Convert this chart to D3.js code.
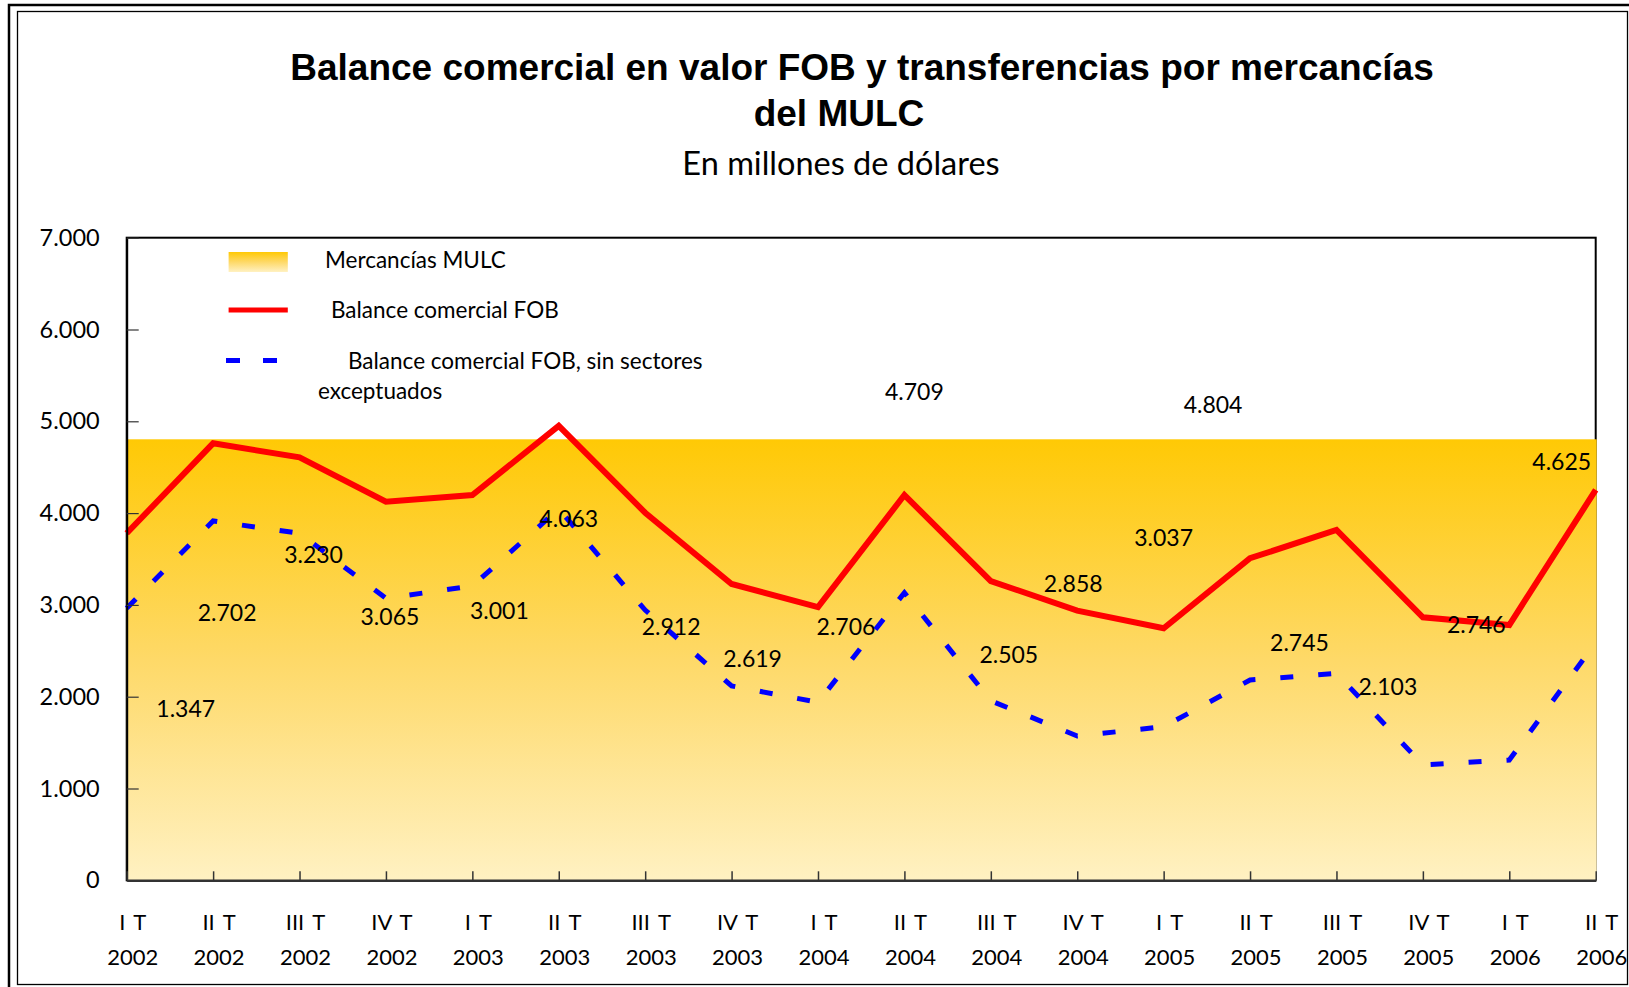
<!DOCTYPE html>
<html>
<head>
<meta charset="utf-8">
<script src="https://cdn.jsdelivr.net/npm/d3@7"></script>
<style>
  body { margin: 0; background: #fff; }
  svg { display: block; }
</style>
</head>
<body>
<svg id="chart"></svg>
<script>
// trimestres
var quarters = ["I T", "II T", "III T", "IV T", "I T", "II T", "III T", "IV T", "I T", "II T",
                "III T", "IV T", "I T", "II T", "III T", "IV T", "I T", "II T"]
var years = ["2002", "2002", "2002", "2002", "2003", "2003", "2003", "2003", "2004", "2004",
             "2004", "2004", "2005", "2005", "2005", "2005", "2006", "2006"]

// Mercancias MULC (etiquetas)
var mulc = [1347, 2702, 3230, 3065, 3001, 4063, 2912, 2619, 2706, 4709,
            2505, 2858, 3037, 4804, 2745, 2103, 2746, 4625]
// Balance comercial FOB
var fob = [3780, 4760, 4608, 4124, 4197, 4950, 4004, 3228, 2975, 4197,
           3260, 2937, 2745, 3508, 3816, 2865, 2781, 4252]
// Balance comercial FOB, sin sectores exceptuados
var fobSinExc = [2963, 3914, 3780, 3072, 3206, 4045, 2944, 2117, 1939, 3133,
                 1956, 1572, 1673, 2182, 2255, 1257, 1310, 2590]

var yTicks = [0, 1000, 2000, 3000, 4000, 5000, 6000, 7000]

// corrimientos manuales de las etiquetas (como en el original)
var labelNudge = [[59, -40], [14, -11], [14, -21], [4, 26], [27, 14], [10, 20], [26, 22], [21, 27], [28, 3],
                  [10, -48], [18, 13], [-4, -26], [0, -56], [-37, -26], [-37, 23], [-35, 8], [-33, 5], [-34, 14]]

var width = 1629
var height = 987
var margin = ({top: 237.7, right: 33.3, bottom: 106.7, left: 126.7})

var es = d3.formatLocale({decimal: ",", thousands: ".", grouping: [3], currency: ["$", ""]})
var fmt = es.format(",")

var x = d3.scalePoint()
  .domain(d3.range(quarters.length))
  .range([margin.left, width - margin.right])

var y = d3.scaleLinear()
  .domain([0, 7000])
  .range([height - margin.bottom, margin.top])

var svg = d3.select("#chart")
  .attr("width", width)
  .attr("height", height)
  .style("font-family", "Lato, 'Open Sans', sans-serif")

var defs = svg.append("defs")
var grad = defs.append("linearGradient")
  .attr("id", "mulcGrad")
  .attr("x1", 0).attr("y1", 0).attr("x2", 0).attr("y2", 1)
grad.append("stop").attr("offset", "0%").attr("stop-color", "#ffc905")
grad.append("stop").attr("offset", "50%").attr("stop-color", "#fed968")
grad.append("stop").attr("offset", "100%").attr("stop-color", "#fff1c2")

// marco doble
svg.append("rect")
  .attr("x", 9).attr("y", 5).attr("width", width).attr("height", height)
  .attr("fill", "none").attr("stroke", "#000").attr("stroke-width", 2.5)
svg.append("rect")
  .attr("x", 17.5).attr("y", 11.5).attr("width", 1610).attr("height", 973)
  .attr("fill", "none").attr("stroke", "#000").attr("stroke-width", 1.3)

// titulos
svg.append("text")
  .attr("x", 862).attr("y", 80)
  .attr("text-anchor", "middle")
  .style("font-family", "'Liberation Sans', Arial, sans-serif")
  .style("font-weight", "bold").style("font-size", "37px")
  .text("Balance comercial en valor FOB y transferencias por mercancías")
svg.append("text")
  .attr("x", 839).attr("y", 126)
  .attr("text-anchor", "middle")
  .style("font-family", "'Liberation Sans', Arial, sans-serif")
  .style("font-weight", "bold").style("font-size", "37px")
  .text("del MULC")
svg.append("text")
  .attr("x", 841).attr("y", 175)
  .attr("text-anchor", "middle")
  .style("font-size", "32.5px")
  .text("En millones de dólares")

// borde del area de grafico
svg.append("rect")
  .attr("x", margin.left).attr("y", margin.top)
  .attr("width", width - margin.right - margin.left)
  .attr("height", height - margin.bottom - margin.top)
  .attr("fill", "none").attr("stroke", "#000").attr("stroke-width", 2)

// area MULC (rellena hasta el maximo de la serie)
svg.append("rect")
  .attr("x", margin.left)
  .attr("y", y(d3.max(mulc)))
  .attr("width", x(quarters.length - 1) - margin.left + 1)
  .attr("height", y(0) - y(d3.max(mulc)))
  .attr("fill", "url(#mulcGrad)")

var line = d3.line()
  .x((d, i) => x(i))
  .y(d => y(d))

svg.append("path")
  .datum(fobSinExc)
  .attr("fill", "none")
  .attr("stroke", "#0000ff")
  .attr("stroke-width", 5)
  .attr("stroke-dasharray", "13,25")
  .attr("d", line)

svg.append("path")
  .datum(fob)
  .attr("fill", "none")
  .attr("stroke", "#ff0000")
  .attr("stroke-width", 6)
  .attr("stroke-linejoin", "miter")
  .attr("d", line)

// ejes
var yAxis = g => g
  .attr("transform", `translate(${margin.left},0)`)
  .call(d3.axisLeft(y).tickValues(yTicks).tickFormat(fmt).tickSize(-12).tickPadding(27).tickSizeOuter(0))
  .call(g => g.select(".domain").attr("stroke", "#000").attr("stroke-width", 2))
  .call(g => g.selectAll(".tick line").attr("stroke", "#333").attr("stroke-width", 1.2))
  .call(g => g.selectAll(".tick text").attr("fill", "#000").style("font-size", "23.5px").style("font-family", "Lato"))

var xAxis = g => g
  .attr("transform", `translate(0,${height - margin.bottom})`)
  .call(d3.axisBottom(x).tickSize(-9).tickFormat("").tickSizeOuter(0))
  .call(g => g.select(".domain").attr("stroke", "#333").attr("stroke-width", 2.5))
  .call(g => g.selectAll(".tick line").attr("stroke", "#333").attr("stroke-width", 1.5))

svg.append("g").call(yAxis)
svg.append("g").call(xAxis)

var xl = svg.append("g")
  .style("font-size", "22px")
  .style("word-spacing", "3px")
  .attr("text-anchor", "middle")
xl.selectAll("text.q")
  .data(quarters)
  .join("text")
    .attr("class", "q")
    .attr("x", (d, i) => x(i) + 6)
    .attr("y", 930)
    .text(d => d)
xl.selectAll("text.yr")
  .data(years)
  .join("text")
    .attr("class", "yr")
    .attr("x", (d, i) => x(i) + 6)
    .attr("y", 965)
    .text(d => d)

// etiquetas MULC
svg.append("g")
  .style("font-size", "23px")
  .attr("text-anchor", "middle")
  .selectAll("text")
  .data(mulc)
  .join("text")
    .attr("x", (d, i) => x(i) + labelNudge[i][0])
    .attr("y", (d, i) => y(d) + labelNudge[i][1])
    .text(d => fmt(d))

// leyenda
var leg = svg.append("g").style("font-size", "22.5px")
leg.append("rect")
  .attr("x", 228.6).attr("y", 252).attr("width", 59.2).attr("height", 20)
  .attr("fill", "url(#mulcGrad)")
leg.append("text").attr("x", 325).attr("y", 268).text("Mercancías MULC")
leg.append("line")
  .attr("x1", 228.6).attr("x2", 287.8).attr("y1", 310).attr("y2", 310)
  .attr("stroke", "#ff0000").attr("stroke-width", 5)
leg.append("text").attr("x", 331).attr("y", 318).text("Balance comercial FOB")
leg.append("line")
  .attr("x1", 226).attr("x2", 277).attr("y1", 360.5).attr("y2", 360.5)
  .attr("stroke", "#0000ff").attr("stroke-width", 5)
  .attr("stroke-dasharray", "14,23")
leg.append("text").attr("x", 348).attr("y", 369).text("Balance comercial FOB, sin sectores")
leg.append("text").attr("x", 318).attr("y", 399).text("exceptuados")
</script>
</body>
</html>
